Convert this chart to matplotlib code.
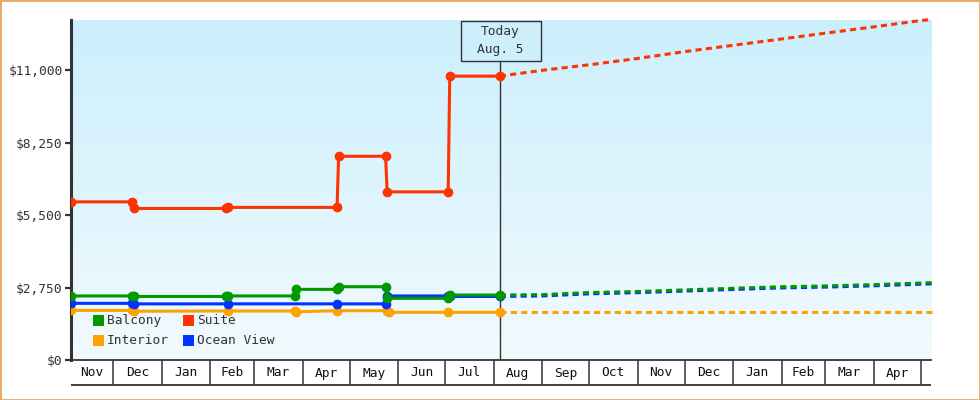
import datetime as dt
import numpy as np
import matplotlib
matplotlib.use("Agg")
import matplotlib.pyplot as plt
import matplotlib.dates as mdates
from matplotlib.patches import Rectangle
from matplotlib.transforms import blended_transform_factory

D = dt.datetime

# ---------------- data ----------------
series_names = ["Interior", "Ocean View", "Balcony", "Suite"]
colors = {"Balcony": "#009900", "Suite": "#FF3300",
          "Interior": "#FFA200", "Ocean View": "#0033FF"}

interior_dates = [D(2012, 11, 4), D(2012, 12, 13), D(2012, 12, 14), D(2013, 2, 12),
                  D(2013, 3, 27), D(2013, 3, 28), D(2013, 4, 23), D(2013, 5, 25),
                  D(2013, 5, 26), D(2013, 7, 3), D(2013, 8, 5)]
interior_vals = [1880, 1880, 1850, 1860, 1860, 1830, 1870, 1870, 1810, 1810, 1810]

ocean_dates = [D(2012, 11, 4), D(2012, 12, 13), D(2012, 12, 14), D(2013, 2, 12),
               D(2013, 4, 23), D(2013, 5, 24), D(2013, 5, 25), D(2013, 7, 3),
               D(2013, 7, 4), D(2013, 8, 5)]
ocean_vals = [2150, 2150, 2130, 2130, 2130, 2130, 2430, 2430, 2410, 2410]

balcony_dates = [D(2012, 11, 4), D(2012, 12, 13), D(2012, 12, 14), D(2013, 2, 11),
                 D(2013, 2, 12), D(2013, 3, 27), D(2013, 3, 28), D(2013, 4, 23),
                 D(2013, 4, 24), D(2013, 5, 24), D(2013, 5, 25), D(2013, 7, 3),
                 D(2013, 7, 4), D(2013, 8, 5)]
balcony_vals = [2430, 2430, 2410, 2410, 2430, 2430, 2680, 2680,
                2780, 2780, 2340, 2340, 2465, 2465]

suite_dates = [D(2012, 11, 4), D(2012, 12, 13), D(2012, 12, 14), D(2013, 2, 11),
               D(2013, 2, 12), D(2013, 4, 23), D(2013, 4, 24), D(2013, 5, 24),
               D(2013, 5, 25), D(2013, 7, 3), D(2013, 7, 4), D(2013, 8, 5)]
suite_vals = [6000, 6000, 5750, 5750, 5790, 5790, 7730, 7730,
              6380, 6380, 10770, 10770]

forecast_dates = [D(2013, 8, 5), D(2013, 9, 1), D(2013, 10, 1), D(2013, 11, 1),
                  D(2013, 12, 1), D(2014, 1, 1), D(2014, 2, 1), D(2014, 3, 1),
                  D(2014, 4, 1), D(2014, 5, 1), D(2014, 5, 8)]
suite_fc = [10770, 10990, 11200, 11440, 11700, 11940, 12180, 12400, 12640, 12880, 12920]
balcony_fc = [2465, 2480, 2560, 2600, 2660, 2720, 2780, 2810, 2860, 2920, 2935]
ocean_fc = [2410, 2430, 2510, 2555, 2615, 2675, 2735, 2765, 2815, 2875, 2890]
interior_fc = [1810] * 11

y_ticks = [0, 2750, 5500, 8250, 11000]
y_labels = ["$0", "$2,750", "$5,500", "$8,250", "$11,000"]
month_names = ["Nov", "Dec", "Jan", "Feb", "Mar", "Apr", "May", "Jun", "Jul",
               "Aug", "Sep", "Oct", "Nov", "Dec", "Jan", "Feb", "Mar", "Apr", "May"]
month_starts = [D(2012, 11, 1), D(2012, 12, 1), D(2013, 1, 1), D(2013, 2, 1),
                D(2013, 3, 1), D(2013, 4, 1), D(2013, 5, 1), D(2013, 6, 1),
                D(2013, 7, 1), D(2013, 8, 1), D(2013, 9, 1), D(2013, 10, 1),
                D(2013, 11, 1), D(2013, 12, 1), D(2014, 1, 1), D(2014, 2, 1),
                D(2014, 3, 1), D(2014, 4, 1), D(2014, 5, 1), D(2014, 6, 1)]
today = D(2013, 8, 5)
today_text = "Today\nAug. 5"

history = {"Interior": (interior_dates, interior_vals),
           "Ocean View": (ocean_dates, ocean_vals),
           "Balcony": (balcony_dates, balcony_vals),
           "Suite": (suite_dates, suite_vals)}
forecast = {"Interior": interior_fc, "Ocean View": ocean_fc,
            "Balcony": balcony_fc, "Suite": suite_fc}

# ---------------- layout ----------------
W, H = 980, 400
DARK = "#333333"
FONT = "DejaVu Sans Mono"
FS = 9.3
fig = plt.figure(figsize=(W / 100, H / 100), dpi=100)
fig.patch.set_facecolor("white")

L, R, T, B = 71, 931, 20, 360
ax = fig.add_axes([L / W, 1 - B / H, (R - L) / W, (B - T) / H])
xmin = D(2012, 11, 4)
xmax = D(2014, 5, 7, 12)
ax.set_xlim(xmin, xmax)
ax.set_ylim(0, 12900)

# gradient background
grad = np.linspace(0, 1, 256).reshape(-1, 1)
top = np.array([203, 239, 252]) / 255
bot = np.array([242, 250, 254]) / 255
img = top[None, None, :] * (1 - grad[:, :, None]) + bot[None, None, :] * grad[:, :, None]
ax.imshow(img, extent=[0, 1, 0, 1], transform=ax.transAxes, aspect="auto", zorder=0)
ax.set_facecolor("none")

for s in ["top", "right"]:
    ax.spines[s].set_visible(False)
ax.spines["left"].set_linewidth(2.2)
ax.spines["left"].set_color(DARK)
ax.spines["bottom"].set_linewidth(1.3)
ax.spines["bottom"].set_color(DARK)

ax.set_yticks(y_ticks)
ax.set_yticklabels(y_labels, fontfamily=FONT, fontsize=FS, color=DARK)
ax.tick_params(axis="y", length=4, width=1.6, color=DARK, pad=2)

# month cells
visible_starts = [m for m in month_starts if xmin < m < xmax]
ax.set_xticks(visible_starts)
ax.set_xticklabels([])
ax.tick_params(axis="x", length=18, width=1.1, color=DARK, direction="out")
trans = blended_transform_factory(ax.transData, ax.transAxes)
x0n, x1n = mdates.date2num(xmin), mdates.date2num(xmax)
for i, name in enumerate(month_names):
    a = max(mdates.date2num(month_starts[i]), x0n)
    b = min(mdates.date2num(month_starts[i + 1]), x1n)
    if b - a < 15:
        continue
    ax.text((a + b) / 2, -13 / (B - T), name, transform=trans, ha="center", va="center",
            fontfamily=FONT, fontsize=FS, color="#111111", clip_on=False)
ax.plot([0, 1], [-25 / (B - T)] * 2, transform=ax.transAxes, color=DARK, lw=1.3,
        clip_on=False, solid_capstyle="butt")

# series
for name in series_names:
    d, v = history[name]
    z = 3 + series_names.index(name)
    ax.plot(d, v, color=colors[name], lw=2.2, marker="o", ms=6, zorder=z,
            solid_joinstyle="miter")
    ax.plot(forecast_dates, forecast[name], color=colors[name], lw=2.2, dashes=(2.0, 1.4),
            zorder=z, clip_on=False)

# today line & box
box_bottom = 60.5
ax.axvline(today, ymin=0, ymax=(B - box_bottom) / (B - T), color=DARK, lw=1, zorder=2)
bx0, bx1, by0, by1 = 460.5, 540.5, 20.5, 60.5
fig.patches.append(Rectangle((bx0 / W, 1 - by1 / H), (bx1 - bx0) / W, (by1 - by0) / H,
                             transform=fig.transFigure, facecolor="#CDEFFC",
                             edgecolor=DARK, lw=1, zorder=5))
lines = today_text.split("\n")
fig.text((bx0 + bx1) / 2 / W, 1 - 32 / H, lines[0], ha="center", va="center",
         fontfamily=FONT, fontsize=FS, color=DARK, zorder=6)
fig.text((bx0 + bx1) / 2 / W, 1 - 50 / H, lines[1], ha="center", va="center",
         fontfamily=FONT, fontsize=FS, color=DARK, zorder=6)

# legend
legend_items = [("Balcony", 93, 315), ("Suite", 183, 315),
                ("Interior", 93, 335), ("Ocean View", 183, 335)]
for name, lx, ly in legend_items:
    fig.patches.append(Rectangle((lx / W, 1 - (ly + 11) / H), 11 / W, 11 / H,
                                 transform=fig.transFigure, facecolor=colors[name],
                                 edgecolor="none", zorder=5))
    fig.text((lx + 14) / W, 1 - (ly + 5.5) / H, name, ha="left", va="center",
             fontfamily=FONT, fontsize=FS, color=DARK, zorder=6)

# outer border
fig.patches.append(Rectangle((0, 0), 1, 1, transform=fig.transFigure, fill=False,
                             edgecolor="#E8A862", lw=2, zorder=10))

fig.savefig("out.png", dpi=100)
